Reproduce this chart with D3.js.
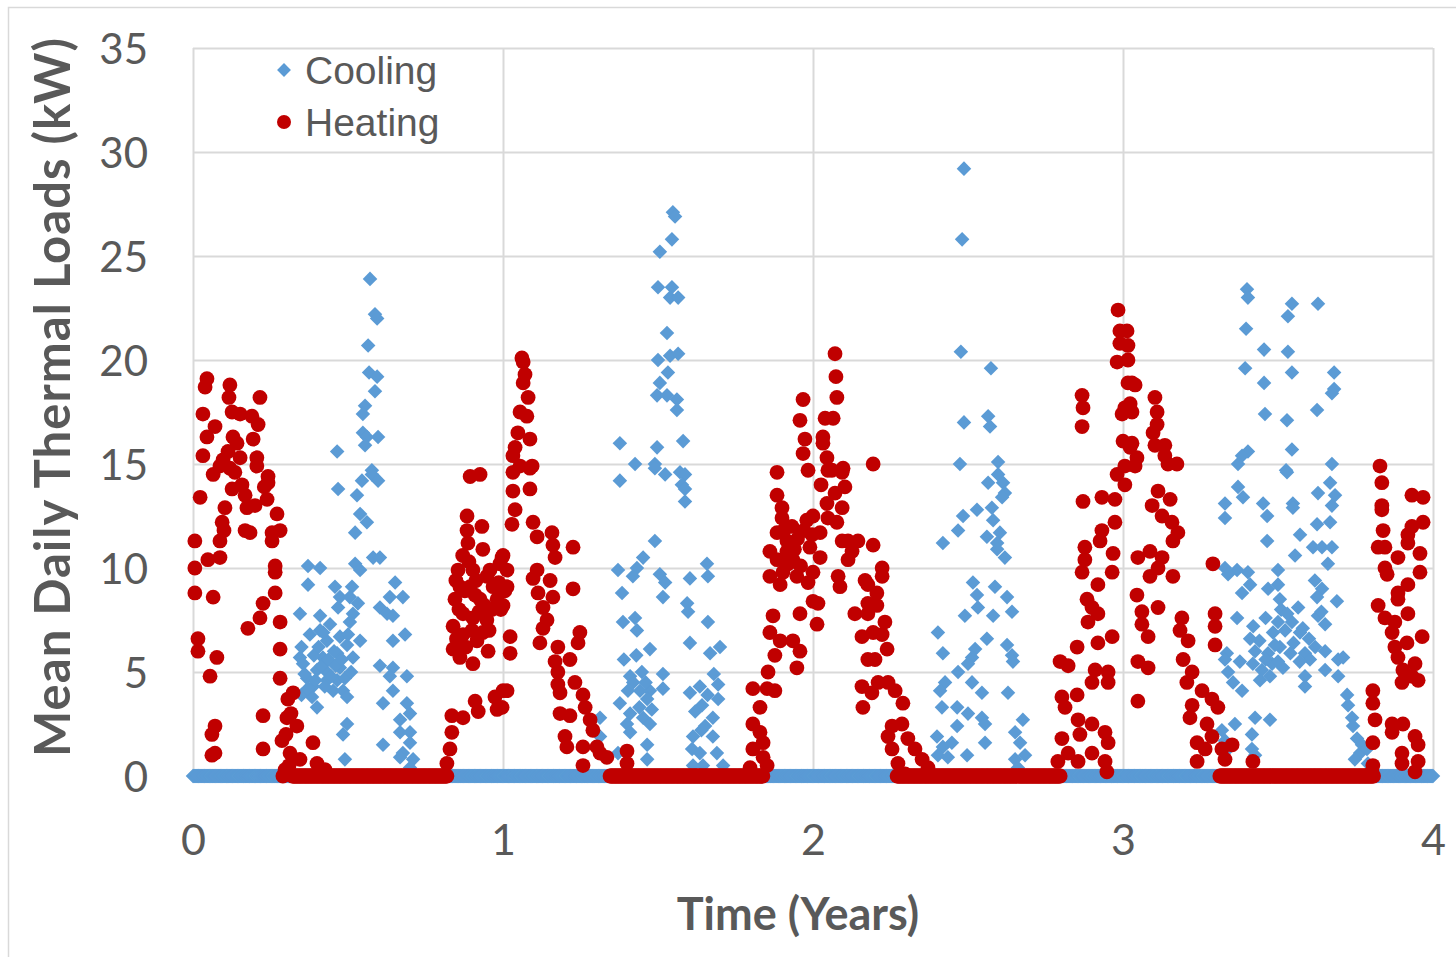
<!DOCTYPE html>
<html><head><meta charset="utf-8">
<script src="https://cdn.jsdelivr.net/npm/d3@7"></script>
<style>
html,body{margin:0;padding:0;background:#fff;}
svg{display:block;}
</style></head>
<body>
<svg id="chart" width="1456" height="957"></svg>
<script>
// ---------- data (x in years, y in kW) ----------
const xTicks = [0, 1, 2, 3, 4];
const yTicks = [0, 5, 10, 15, 20, 25, 30, 35];
const seriesNames = ["Cooling", "Heating"];
const xTitle = "Time (Years)";
const yTitle = "Mean Daily Thermal Loads (kW)";

// spans (in years) in which the daily load is 0 kW
const coolingZeroSpans = [[0, 4]];
const heatingZeroSpans = [[0.32, 0.82], [1.345, 1.84], [2.27, 2.80], [3.31, 3.81]];

const heatingSeason1 = [[0.045,19.1],[0.039,18.7],[0.119,18.8],[0.116,18.2],[0.216,18.2],[0.032,17.4],[0.126,17.5],[0.152,17.4],[0.190,17.3],[0.071,16.8],[0.210,16.9],[0.129,16.3],[0.045,16.3],[0.194,16.2],[0.142,16.0],[0.032,15.4],[0.097,15.2],[0.152,15.3],[0.206,15.3],[0.087,14.9],[0.119,14.8],[0.206,14.9],[0.242,14.4],[0.065,14.5],[0.168,13.5],[0.242,14.1],[0.023,13.4],[0.103,12.9],[0.094,12.2],[0.006,11.3],[0.087,11.3],[0.048,10.4],[0.087,10.5],[0.168,11.8],[0.184,11.7],[0.255,11.7],[0.281,11.8],[0.255,11.3],[0.271,12.6],[0.239,13.3],[0.126,13.8],[0.006,10.0],[0.006,8.8],[0.065,8.6],[0.265,10.1],[0.265,9.8],[0.265,8.8],[0.226,8.3],[0.216,7.6],[0.177,7.1],[0.281,7.4],[0.016,6.6],[0.016,6.0],[0.077,5.7],[0.055,4.8],[0.281,6.1],[0.281,4.7],[0.226,2.9],[0.071,2.4],[0.061,2.0],[0.061,1.0],[0.071,1.1],[0.226,1.3],[0.323,4.0],[0.306,3.7],[0.303,2.8],[0.335,2.4],[0.287,1.7],[0.313,1.1],[0.345,0.8],[0.387,1.6],[0.400,0.6],[0.426,0.3],[0.290,0.0],[0.135,14.6],[0.158,14.0],[0.174,12.9],[0.200,13.0],[0.113,15.6],[0.100,11.8],[0.230,13.9],[0.297,0.3],[0.310,0.5],[0.300,2.0],[0.316,3.0]];

const heatingSeason2 = [[0.894,14.4],[0.926,14.5],[0.884,12.5],[0.932,12.0],[0.884,11.8],[0.887,11.2],[0.935,10.9],[0.997,10.5],[0.990,10.2],[0.855,9.9],[0.903,9.9],[0.948,9.6],[0.861,9.1],[0.894,9.1],[0.968,9.1],[1.013,9.1],[0.845,8.5],[0.926,8.5],[0.981,8.5],[1.000,8.2],[0.871,7.8],[0.903,7.6],[0.948,7.5],[0.839,7.2],[0.871,6.8],[0.916,6.5],[0.935,6.9],[0.839,6.1],[0.861,5.7],[0.903,5.4],[0.952,6.0],[1.000,4.1],[0.974,3.8],[0.981,3.2],[0.835,2.9],[0.871,2.8],[0.835,2.1],[0.829,1.3],[0.819,0.6],[0.910,3.6],[0.920,3.1],[1.061,20.1],[1.065,19.9],[1.071,19.3],[1.065,18.9],[1.081,18.2],[1.055,17.5],[1.077,17.3],[1.048,16.5],[1.087,16.2],[1.039,15.8],[1.032,15.4],[1.055,14.9],[1.094,14.9],[1.032,14.6],[1.087,14.8],[1.032,13.7],[1.087,13.8],[1.039,12.8],[1.029,12.1],[1.097,12.2],[1.110,11.5],[1.158,11.7],[1.161,11.1],[1.168,10.5],[1.226,11.0],[1.110,9.9],[1.097,9.5],[1.152,9.4],[1.113,8.8],[1.226,9.0],[1.161,8.6],[1.129,8.1],[1.142,7.5],[1.129,7.1],[1.248,6.9],[1.242,6.4],[1.119,6.4],[1.177,6.2],[1.168,5.5],[1.216,5.6],[1.177,5.0],[1.177,4.4],[1.232,4.5],[1.184,4.0],[1.258,3.9],[1.184,3.0],[1.216,2.9],[1.265,3.3],[1.281,2.7],[1.200,1.9],[1.206,1.4],[1.258,1.4],[1.290,2.2],[1.303,1.4],[1.313,1.1],[1.258,0.5],[1.335,0.9],[1.400,1.2],[1.400,0.6],[1.000,10.6],[1.013,9.9],[1.023,6.7],[1.023,5.9],[1.013,4.1],[0.997,3.3],[0.848,9.4],[0.858,8.0],[0.877,8.9],[0.890,10.3],[0.900,7.0],[0.913,9.4],[0.923,7.9],[0.940,8.2],[0.958,9.9],[0.965,8.0],[0.955,7.0],[0.870,10.6],[0.880,6.2],[0.910,8.7],[0.986,9.3],[0.993,8.0],[1.006,8.9],[0.850,6.6]];

const heatingSeason3 = [[1.884,14.6],[1.884,13.5],[1.900,12.9],[1.900,12.4],[1.932,12.0],[1.884,11.7],[1.916,11.3],[1.997,11.6],[1.861,10.8],[1.916,10.8],[1.990,11.0],[1.884,10.4],[1.935,10.4],[2.023,10.5],[1.861,9.6],[1.903,9.8],[1.948,9.6],[2.000,9.8],[1.894,9.2],[1.984,9.3],[2.000,8.4],[1.958,7.8],[1.871,7.7],[2.013,7.3],[1.861,6.9],[1.894,6.5],[1.935,6.5],[1.958,6.0],[1.877,5.8],[1.948,5.2],[1.855,5.0],[1.806,4.2],[1.852,4.2],[1.877,4.1],[1.829,3.3],[1.806,2.5],[1.829,2.1],[1.839,1.6],[1.806,1.3],[1.839,0.9],[1.797,0.4],[1.852,0.5],[2.071,20.3],[2.074,19.2],[2.077,18.2],[2.039,17.2],[2.065,17.2],[2.032,16.3],[2.032,16.0],[2.045,15.3],[2.061,14.7],[2.097,14.8],[2.194,15.0],[1.968,18.1],[1.958,17.1],[1.974,16.2],[1.968,15.5],[1.984,14.7],[2.048,14.7],[2.094,14.6],[2.026,14.0],[2.071,13.6],[2.103,13.9],[2.045,13.1],[2.094,12.9],[2.048,12.4],[2.077,12.2],[2.023,11.7],[2.094,11.3],[2.113,11.3],[2.145,11.3],[2.194,11.1],[2.126,10.8],[2.113,10.4],[2.223,10.0],[2.081,9.6],[2.168,9.4],[2.223,9.6],[2.087,9.1],[2.177,9.2],[2.206,8.8],[2.016,8.3],[2.177,8.3],[2.206,8.2],[2.135,7.8],[2.177,7.8],[2.232,7.4],[2.158,6.7],[2.194,6.9],[2.223,6.8],[2.239,6.1],[2.177,5.6],[2.200,5.6],[2.158,4.3],[2.210,4.5],[2.242,4.5],[2.161,3.3],[2.190,4.0],[2.265,4.1],[2.290,3.5],[2.255,2.4],[2.287,2.5],[2.242,1.9],[2.306,1.8],[2.255,1.3],[2.329,1.3],[2.274,0.6],[2.352,0.8],[2.297,0.1],[2.371,0.4],[1.920,10.2],[1.940,10.9],[1.960,10.1],[1.970,11.8],[1.980,12.3],[1.950,11.4],[2.000,12.5],[1.910,11.9]];

const heatingSeason4 = [[2.868,18.3],[2.871,17.7],[2.868,16.8],[2.984,22.4],[2.990,21.4],[2.990,20.8],[2.981,19.9],[3.016,20.0],[3.016,18.9],[3.006,17.7],[3.023,17.9],[2.997,17.4],[3.000,16.1],[3.023,15.8],[3.006,14.9],[3.013,21.4],[3.016,20.7],[3.029,18.9],[3.039,18.8],[3.029,17.5],[3.103,18.2],[3.110,17.5],[3.110,16.9],[3.097,16.5],[3.029,16.0],[3.103,15.9],[3.135,15.9],[3.045,15.3],[3.135,15.4],[3.174,15.0],[2.981,14.5],[3.006,14.0],[2.871,13.2],[2.932,13.4],[2.974,13.3],[2.974,12.2],[2.932,11.8],[2.926,11.3],[2.877,11.0],[2.968,10.7],[2.877,10.4],[2.868,9.8],[2.919,9.2],[2.965,9.8],[2.884,8.5],[2.900,8.1],[2.919,7.8],[2.887,7.4],[2.965,6.7],[2.919,6.4],[2.852,6.2],[2.797,5.5],[2.823,5.3],[2.910,5.1],[2.952,5.0],[2.900,4.5],[2.952,4.5],[2.803,3.8],[2.852,3.9],[2.813,3.3],[2.855,2.7],[2.900,2.5],[2.942,2.1],[2.803,1.8],[2.861,2.0],[2.952,1.6],[2.823,1.1],[2.900,1.1],[2.790,0.7],[2.855,0.7],[2.942,0.7],[2.948,0.2],[3.039,14.9],[3.145,15.0],[3.113,13.7],[3.152,13.3],[3.094,13.0],[3.126,12.5],[3.158,12.2],[3.177,11.7],[3.161,11.3],[3.048,10.5],[3.087,10.8],[3.126,10.5],[3.113,10.0],[3.087,9.6],[3.161,9.6],[3.290,10.2],[3.045,8.7],[3.113,8.1],[3.061,7.9],[3.190,7.6],[3.297,7.8],[3.061,7.3],[3.184,7.0],[3.210,6.5],[3.297,7.2],[3.081,6.7],[3.297,6.3],[3.048,5.5],[3.081,5.2],[3.194,5.6],[3.223,5.0],[3.048,3.6],[3.206,4.5],[3.255,4.1],[3.223,3.4],[3.287,3.7],[3.306,3.3],[3.216,2.8],[3.271,2.5],[3.239,1.6],[3.287,1.9],[3.265,1.3],[3.239,0.7],[3.319,1.3],[3.352,1.5],[3.329,0.8],[3.419,0.7]];

const heatingSeason5 = [[3.829,14.9],[3.835,14.1],[3.932,13.5],[3.968,13.4],[3.835,13.0],[3.835,12.8],[3.932,12.0],[3.968,12.2],[3.839,11.8],[3.919,11.6],[3.919,11.2],[3.823,11.0],[3.845,11.0],[3.887,10.5],[3.958,10.7],[3.845,10.0],[3.852,9.7],[3.919,9.2],[3.958,9.8],[3.887,8.8],[3.823,8.2],[3.887,8.5],[3.919,7.8],[3.845,7.6],[3.877,7.4],[3.868,6.9],[3.965,6.7],[3.916,6.4],[3.877,6.2],[3.887,5.7],[3.942,5.4],[3.903,5.1],[3.932,4.8],[3.952,4.6],[3.900,4.5],[3.806,4.1],[3.806,3.5],[3.813,2.7],[3.868,2.5],[3.903,2.5],[3.868,2.1],[3.942,1.9],[3.806,1.6],[3.952,1.5],[3.900,1.1],[3.952,0.7],[3.900,0.6],[3.942,0.2],[3.806,0.5],[3.803,0.2]];

const coolingSeason1 = [[0.571,23.9],[0.587,22.2],[0.594,22.0],[0.565,20.7],[0.568,19.4],[0.594,19.2],[0.587,18.5],[0.555,17.8],[0.548,17.4],[0.548,16.5],[0.561,16.3],[0.597,16.3],[0.555,15.9],[0.465,15.6],[0.577,14.7],[0.577,14.5],[0.545,14.2],[0.597,14.2],[0.468,13.8],[0.529,13.5],[0.539,12.6],[0.561,12.2],[0.523,11.7],[0.581,10.5],[0.523,10.2],[0.603,10.5],[0.539,9.9],[0.371,10.1],[0.410,10.0],[0.371,9.2],[0.458,9.1],[0.513,9.1],[0.652,9.3],[0.474,8.6],[0.506,8.6],[0.532,8.3],[0.635,8.6],[0.677,8.6],[0.603,8.1],[0.468,8.1],[0.345,7.8],[0.516,7.8],[0.626,7.8],[0.645,7.7],[0.410,7.7],[0.506,7.4],[0.410,7.0],[0.442,7.3],[0.539,6.5],[0.377,6.8],[0.432,6.5],[0.474,6.7],[0.497,6.3],[0.684,6.8],[0.645,6.5],[0.345,5.7],[0.419,5.7],[0.465,5.9],[0.516,5.7],[0.603,5.3],[0.645,5.2],[0.355,5.4],[0.400,5.1],[0.432,5.0],[0.474,5.2],[0.368,4.7],[0.432,4.6],[0.465,4.6],[0.635,4.8],[0.690,4.8],[0.387,4.3],[0.452,4.1],[0.484,4.1],[0.645,4.1],[0.384,3.8],[0.497,3.8],[0.613,3.5],[0.690,3.5],[0.400,3.3],[0.700,3.0],[0.668,2.7],[0.497,2.5],[0.484,2.0],[0.668,2.1],[0.700,2.1],[0.613,1.5],[0.700,1.6],[0.677,1.1],[0.668,0.9],[0.710,0.8],[0.490,0.8],[0.700,0.4],[0.350,6.2],[0.360,4.9],[0.390,5.8],[0.395,4.6],[0.405,6.2],[0.415,5.3],[0.425,4.3],[0.437,5.6],[0.445,4.8],[0.455,6.0],[0.460,5.3],[0.350,3.9],[0.370,4.2],[0.420,6.9],[0.480,5.6],[0.490,4.7],[0.500,6.8],[0.510,5.0]];

const coolingSeason2 = [[1.548,27.1],[1.555,26.9],[1.545,25.8],[1.506,25.2],[1.500,23.5],[1.545,23.5],[1.539,23.0],[1.565,23.0],[1.529,21.3],[1.500,20.0],[1.539,20.2],[1.565,20.3],[1.532,19.4],[1.506,18.9],[1.497,18.3],[1.529,18.3],[1.561,18.1],[1.561,17.6],[1.377,16.0],[1.497,15.8],[1.581,16.1],[1.426,15.0],[1.490,15.0],[1.490,14.8],[1.377,14.2],[1.523,14.5],[1.571,14.6],[1.587,14.5],[1.577,14.0],[1.587,13.8],[1.587,13.2],[1.490,11.3],[1.452,10.5],[1.432,10.0],[1.371,9.9],[1.419,9.6],[1.506,9.7],[1.523,9.3],[1.603,9.5],[1.658,10.2],[1.661,9.6],[1.384,8.8],[1.516,8.6],[1.594,8.3],[1.597,7.9],[1.387,7.4],[1.426,7.6],[1.432,7.0],[1.661,7.4],[1.474,6.1],[1.603,6.4],[1.668,5.9],[1.700,6.2],[1.410,4.8],[1.448,5.0],[1.516,4.9],[1.403,4.1],[1.442,4.1],[1.474,4.1],[1.516,4.2],[1.635,4.3],[1.694,4.4],[1.603,4.0],[1.377,3.5],[1.465,3.7],[1.642,3.4],[1.694,3.7],[1.410,3.0],[1.452,2.8],[1.677,2.8],[1.313,2.8],[1.400,2.5],[1.474,2.5],[1.652,2.4],[1.410,2.1],[1.313,1.9],[1.613,1.9],[1.677,1.9],[1.465,1.5],[1.610,1.3],[1.635,1.1],[1.690,1.1],[1.371,1.1],[1.465,0.8],[1.645,0.5],[1.710,0.5],[1.613,0.5],[1.390,5.6],[1.420,4.5],[1.440,3.3],[1.460,4.5],[1.480,3.2],[1.430,5.8],[1.620,3.1],[1.660,3.9],[1.680,4.9],[1.640,2.2]];

const coolingSeason3 = [[2.487,29.2],[2.481,25.8],[2.477,20.4],[2.574,19.6],[2.487,17.0],[2.565,17.3],[2.571,16.8],[2.474,15.0],[2.597,15.1],[2.565,14.1],[2.597,14.5],[2.613,14.1],[2.619,13.6],[2.610,13.4],[2.529,12.8],[2.484,12.5],[2.577,12.9],[2.581,12.3],[2.468,11.8],[2.561,11.5],[2.603,11.7],[2.419,11.2],[2.594,11.2],[2.594,10.9],[2.619,10.5],[2.516,9.3],[2.587,9.1],[2.529,8.7],[2.626,8.6],[2.532,8.1],[2.490,7.7],[2.581,7.7],[2.642,7.9],[2.403,6.9],[2.561,6.6],[2.419,5.9],[2.523,6.1],[2.626,6.3],[2.642,5.8],[2.645,5.5],[2.513,5.7],[2.468,5.0],[2.500,5.4],[2.426,4.5],[2.513,4.5],[2.545,4.0],[2.410,4.1],[2.629,4.0],[2.416,3.3],[2.465,3.3],[2.500,3.0],[2.545,2.8],[2.555,2.5],[2.465,2.4],[2.677,2.7],[2.652,2.1],[2.400,1.9],[2.419,1.4],[2.448,1.6],[2.555,1.6],[2.668,1.6],[2.403,1.0],[2.497,1.0],[2.435,0.9],[2.652,0.8],[2.684,1.0],[2.661,0.4]];

const coolingSeason4 = [[3.400,23.4],[3.403,23.0],[3.545,22.7],[3.532,22.1],[3.629,22.7],[3.397,21.5],[3.455,20.5],[3.532,20.4],[3.394,19.6],[3.545,19.4],[3.681,19.4],[3.455,18.9],[3.681,18.6],[3.674,18.4],[3.626,17.6],[3.458,17.4],[3.529,17.1],[3.545,15.7],[3.403,15.6],[3.384,15.4],[3.371,15.0],[3.674,15.0],[3.526,14.7],[3.529,14.6],[3.371,13.9],[3.387,13.4],[3.329,13.1],[3.329,12.4],[3.452,13.1],[3.465,12.5],[3.548,13.1],[3.548,12.9],[3.629,13.6],[3.668,14.1],[3.684,13.5],[3.674,13.0],[3.626,12.1],[3.668,12.2],[3.571,11.6],[3.465,11.3],[3.555,10.6],[3.613,11.0],[3.642,11.0],[3.674,11.0],[3.661,10.2],[3.329,10.0],[3.368,9.9],[3.403,9.8],[3.500,9.9],[3.339,9.7],[3.384,8.8],[3.410,9.2],[3.468,9.0],[3.500,9.2],[3.619,9.4],[3.642,9.0],[3.626,8.6],[3.690,8.4],[3.506,8.5],[3.565,8.1],[3.629,7.7],[3.368,7.6],[3.500,7.4],[3.545,7.4],[3.652,7.3],[3.571,6.9],[3.484,6.9],[3.523,7.0],[3.426,6.0],[3.468,5.9],[3.506,6.2],[3.335,5.9],[3.329,5.6],[3.377,5.5],[3.419,5.4],[3.448,5.1],[3.481,5.4],[3.516,5.2],[3.587,5.9],[3.603,5.6],[3.652,6.0],[3.694,5.6],[3.710,5.7],[3.339,5.0],[3.355,4.5],[3.384,4.1],[3.442,4.6],[3.474,4.8],[3.587,4.8],[3.587,4.3],[3.652,5.1],[3.694,4.8],[3.723,3.9],[3.726,3.4],[3.739,2.8],[3.742,2.4],[3.755,1.8],[3.771,1.5],[3.765,1.1],[3.787,1.3],[3.748,0.8],[3.790,0.6],[3.426,2.8],[3.474,2.7],[3.361,2.5],[3.319,2.2],[3.416,2.0],[3.329,1.7],[3.416,1.3],[3.426,1.0],[3.339,1.3],[3.420,7.2],[3.440,6.5],[3.460,7.6],[3.490,6.3],[3.510,8.0],[3.530,7.8],[3.550,6.4],[3.580,7.1],[3.600,6.6],[3.620,6.2],[3.640,7.9],[3.460,5.6],[3.500,5.5],[3.540,5.9],[3.570,5.5],[3.410,6.6]];

// ---------- build series ----------
function zeroDays(spans) {
  const out = [];
  spans.forEach(([a, b]) => {
    for (let d = Math.ceil(a * 365); d <= Math.floor(b * 365); d++) out.push([d / 365, 0]);
  });
  return out;
}
const cooling = zeroDays(coolingZeroSpans).concat(coolingSeason1, coolingSeason2, coolingSeason3, coolingSeason4);
const heating = zeroDays(heatingZeroSpans).concat(heatingSeason1, heatingSeason2, heatingSeason3, heatingSeason4, heatingSeason5);

// ---------- drawing ----------
const W = 1456, H = 957;
const plotL = 193, plotR = 1433, plotT = 48, plotB = 776;
const svg = d3.select("#chart");
const x = d3.scaleLinear().domain([0, 4]).range([plotL, plotR]);
const y = d3.scaleLinear().domain([0, 35]).range([plotB, plotT]);
const textColor = "#595959";
const gridColor = "#d9d9d9";
const blue = "#5b9bd5", red = "#c00000";
const tickFont = "Lato, 'Open Sans', sans-serif";

// outer chart border
svg.append("rect").attr("x", 8.5).attr("y", 7.5).attr("width", W + 20).attr("height", H + 20)
  .attr("fill", "#fff").attr("stroke", gridColor).attr("stroke-width", 1.5);

// y axis with horizontal gridlines
const yAxis = svg.append("g").attr("transform", `translate(${plotL},0)`)
  .call(d3.axisLeft(y).tickValues(yTicks).tickFormat(d3.format("d")).tickSize(-(plotR - plotL)).tickPadding(45));
yAxis.select(".domain").remove();
yAxis.selectAll(".tick line").attr("stroke", gridColor).attr("stroke-width", 2);
yAxis.selectAll(".tick text").attr("fill", textColor).style("font-family", tickFont).style("font-size", "42px").attr("dy", "0.36em");

// x axis with vertical gridlines
const xAxis = svg.append("g").attr("transform", `translate(0,${plotB})`)
  .call(d3.axisBottom(x).tickValues(xTicks).tickFormat(d3.format("d")).tickSize(-(plotB - plotT)).tickPadding(48));
xAxis.select(".domain").remove();
xAxis.selectAll(".tick line").attr("stroke", gridColor).attr("stroke-width", 2);
xAxis.selectAll(".tick text").attr("fill", textColor).style("font-family", tickFont).style("font-size", "43px").attr("dy", "0.72em");

// series
const diamond = d3.symbol().type(d3.symbolSquare).size(106);
svg.append("g").selectAll("path").data(cooling).join("path")
  .attr("d", diamond)
  .attr("transform", d => `translate(${x(d[0])},${y(d[1])}) rotate(45)`)
  .attr("fill", blue);
svg.append("g").selectAll("circle").data(heating).join("circle")
  .attr("cx", d => x(d[0])).attr("cy", d => y(d[1])).attr("r", 7.4)
  .attr("fill", red);

// axis titles
svg.append("text").attr("x", 798).attr("y", 930).attr("text-anchor", "middle")
  .attr("fill", textColor).style("font-family", tickFont).style("font-weight", "bold").style("font-size", "45px")
  .text(xTitle);
svg.append("text").attr("transform", "translate(70,397.5) rotate(-90)").attr("text-anchor", "middle")
  .attr("fill", textColor).style("font-family", tickFont).style("font-weight", "bold").style("font-size", "49px")
  .attr("textLength", 719).attr("lengthAdjust", "spacing")
  .text(yTitle);

// legend
const legend = svg.append("g");
const legendRows = [{ name: seriesNames[0], color: blue, cy: 70 }, { name: seriesNames[1], color: red, cy: 122 }];
legendRows.forEach((r, i) => {
  if (i === 0) {
    legend.append("path").attr("d", d3.symbol().type(d3.symbolSquare).size(96)())
      .attr("transform", `translate(284,${r.cy}) rotate(45)`).attr("fill", r.color);
  } else {
    legend.append("circle").attr("cx", 284).attr("cy", r.cy).attr("r", 7).attr("fill", r.color);
  }
  legend.append("text").attr("x", 305).attr("y", r.cy + 13.5)
    .attr("fill", textColor).style("font-family", "'Liberation Sans', Arial, sans-serif").style("font-size", "39px")
    .text(r.name);
});
</script>
</body></html>
